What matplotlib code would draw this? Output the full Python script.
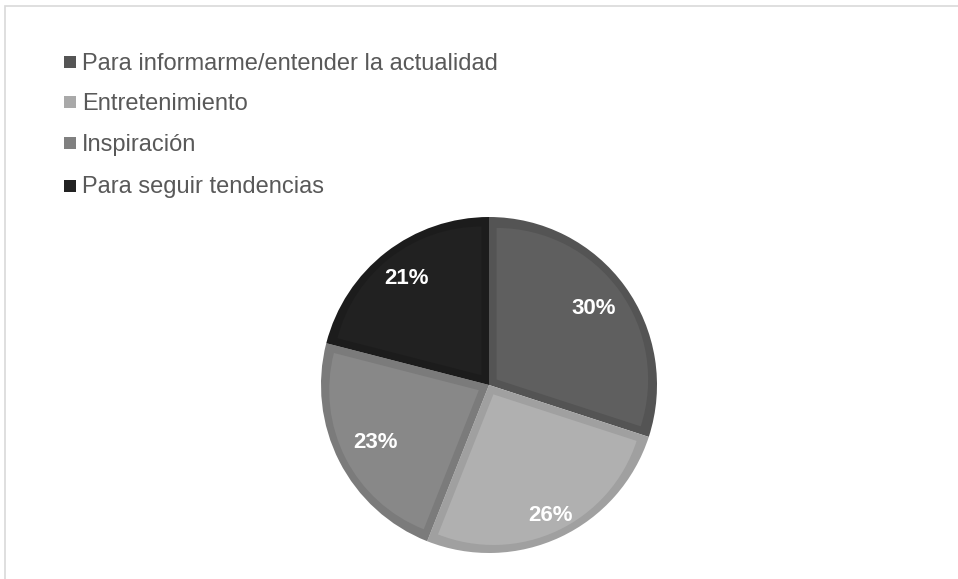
import numpy as np
import matplotlib.pyplot as plt
from matplotlib.patches import Rectangle, Wedge

plt.rcParams['font.family'] = ['Liberation Sans', 'DejaVu Sans']

# survey shares, clockwise from 12 o'clock
categories = [
    'Para informarme/entender la actualidad',
    'Entretenimiento',
    'Inspiración',
    'Para seguir tendencias',
]
shares = [30, 26, 23, 21]

fill_colors = ['#5f5f5f', '#b0b0b0', '#888888', '#212121']
edge_colors = ['#545454', '#a0a0a0', '#7b7b7b', '#1c1c1c']
legend_colors = ['#555555', '#a9a9a9', '#808080', '#222222']
label_dist = [0.77, 0.86, 0.76, 0.80]

fig = plt.figure(figsize=(9.58, 5.79), dpi=100)

# outer chart frame
fig.patches.append(Rectangle(
    (4.5 / 958, -0.05), 1.1, (579 - 5.5) / 579 + 0.05,
    transform=fig.transFigure, fill=False, edgecolor='#d9d9d9',
    linewidth=1.2, zorder=0
))

# pie axes: centre (489, 385) px, radius 168 px
r_px = 168
cx, cy = 489, 385
ax = fig.add_axes([(cx - r_px) / 958, (579 - cy - r_px) / 579,
                   2 * r_px / 958, 2 * r_px / 579])

# base pie in the border colour
wedges, texts = ax.pie(
    shares, colors=edge_colors, startangle=90, counterclock=False,
    labels=[f'{s}%' for s in shares],
    wedgeprops=dict(edgecolor='none', linewidth=0),
    textprops=dict(color='white', fontsize=16, fontweight='bold'),
)

# lighter inner fill, inset by a constant border width
inset = 0.045
for w, fc in zip(wedges, fill_colors):
    t1, t2 = w.theta1, w.theta2
    half = np.deg2rad((t2 - t1) / 2)
    mid = np.deg2rad((t1 + t2) / 2)
    shift = inset / np.sin(half)
    c = (shift * np.cos(mid), shift * np.sin(mid))
    ax.add_patch(Wedge(c, 1 - inset - shift * 0.95, t1, t2,
                       facecolor=fc, edgecolor='none', zorder=2))

# percentage labels on top, placed along each slice bisector
for w, t, d in zip(wedges, texts, label_dist):
    mid = np.deg2rad((w.theta1 + w.theta2) / 2)
    t.set_position((d * np.cos(mid), d * np.sin(mid)))
    t.set_ha('center')
    t.set_va('center')
    t.set_zorder(5)

ax.set_aspect('auto')
ax.set_xlim(-1.0, 1.0)
ax.set_ylim(-1.0, 1.0)

# legend drawn by hand: square marker + label
row_y = [62, 102, 143, 186]
for label, color, y in zip(categories, legend_colors, row_y):
    fig.patches.append(Rectangle(
        (64 / 958, (579 - y - 6) / 579), 12 / 958, 12 / 579,
        transform=fig.transFigure, facecolor=color, edgecolor='none'
    ))
    fig.text(82 / 958, (579 - y - 1.5) / 579, label, fontsize=17,
             color='#595959', va='center', ha='left')

fig.savefig('out.png', dpi=100, facecolor='white')
